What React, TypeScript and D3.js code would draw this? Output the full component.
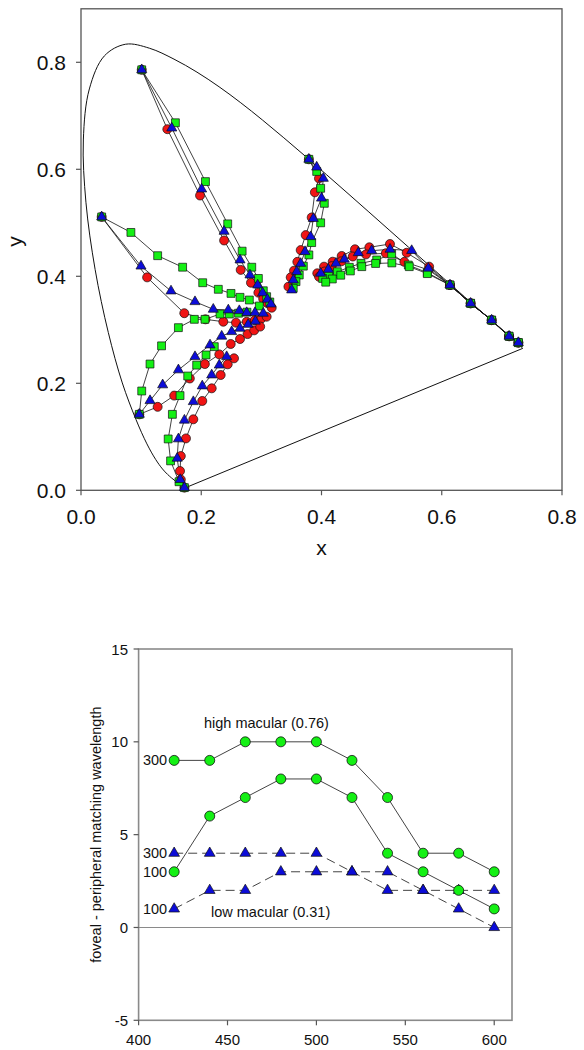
import React from "react";
import * as d3 from "d3";

type P = [number, number];

// CIE 1931 spectral locus (x, y), 380-700 nm
const spectralLocus: P[] = [
  [0.1741, 0.005], [0.1733, 0.0048], [0.1726, 0.0048], [0.1714, 0.0051], [0.1703, 0.0058],
  [0.1689, 0.0069], [0.1669, 0.0086], [0.1644, 0.0109], [0.1611, 0.0138], [0.1566, 0.0177],
  [0.151, 0.0227], [0.144, 0.0297], [0.1355, 0.0399], [0.1241, 0.0578], [0.1096, 0.0868],
  [0.0913, 0.1327], [0.0687, 0.2007], [0.0454, 0.295], [0.0235, 0.4127], [0.0082, 0.5384],
  [0.0039, 0.6548], [0.0139, 0.7502], [0.0389, 0.812], [0.0743, 0.8338], [0.1142, 0.8262],
  [0.1547, 0.8059], [0.1929, 0.7816], [0.2296, 0.7543], [0.2658, 0.7243], [0.3016, 0.6923],
  [0.3373, 0.6589], [0.3731, 0.6245], [0.4087, 0.5896], [0.4441, 0.5547], [0.4788, 0.5202],
  [0.5125, 0.4866], [0.5448, 0.4544], [0.5752, 0.4242], [0.6029, 0.3965], [0.627, 0.3725],
  [0.6482, 0.3514], [0.6658, 0.334], [0.6801, 0.3197], [0.6915, 0.3083], [0.7006, 0.2993],
  [0.7079, 0.292], [0.714, 0.2859], [0.719, 0.2809], [0.723, 0.277], [0.726, 0.274],
  [0.73, 0.27], [0.732, 0.268], [0.7347, 0.2653],
];

// Fan from ~515 nm (top)
const fanARed: P[] = [[0.101, 0.786], [0.1436, 0.675], [0.198, 0.551], [0.238, 0.467], [0.2656, 0.412], [0.2827, 0.388], [0.295, 0.3694], [0.303, 0.358], [0.31, 0.35], [0.3172, 0.3413]];
const fanABlue: P[] = [[0.101, 0.786], [0.151, 0.677], [0.2007, 0.563], [0.238, 0.484], [0.2645, 0.4305], [0.281, 0.4024], [0.2938, 0.3837], [0.302, 0.369], [0.31, 0.357], [0.316, 0.348]];
const fanAGreen: P[] = [[0.101, 0.786], [0.157, 0.687], [0.207, 0.577], [0.244, 0.498], [0.268, 0.447], [0.284, 0.417], [0.295, 0.396], [0.3032, 0.373], [0.3088, 0.3619], [0.314, 0.352]];

// Fan from ~495 nm (left)
const fanBRed: P[] = [[0.0344, 0.511], [0.11, 0.398], [0.1718, 0.331], [0.207, 0.3196], [0.2367, 0.3151], [0.2578, 0.3133], [0.2756, 0.3151], [0.289, 0.318], [0.3, 0.321], [0.3088, 0.3245]];
const fanBBlue: P[] = [[0.0344, 0.511], [0.0998, 0.419], [0.1497, 0.3725], [0.1896, 0.3525], [0.22, 0.3383], [0.245, 0.337], [0.2633, 0.3357], [0.2756, 0.332], [0.2894, 0.332], [0.3032, 0.3308]];
const fanBGreen: P[] = [[0.0344, 0.511], [0.083, 0.482], [0.1275, 0.4385], [0.169, 0.417], [0.2024, 0.388], [0.2284, 0.3757], [0.2495, 0.368], [0.2645, 0.3607], [0.28, 0.3557], [0.2966, 0.3445]];

// Fan from ~480 nm
const fanCRed: P[] = [[0.097, 0.142], [0.1275, 0.156], [0.155, 0.177], [0.181, 0.209], [0.206, 0.236], [0.23, 0.254], [0.249, 0.2735], [0.2645, 0.2828], [0.277, 0.292], [0.288, 0.299], [0.298, 0.306]];
const fanCBlue: P[] = [[0.097, 0.142], [0.1148, 0.1675], [0.1358, 0.197], [0.162, 0.225], [0.1896, 0.2497], [0.2146, 0.2716], [0.234, 0.288], [0.2506, 0.2965], [0.2645, 0.3028], [0.278, 0.31], [0.29, 0.316]];
const fanCGreen: P[] = [[0.097, 0.142], [0.101, 0.1856], [0.1148, 0.236], [0.134, 0.27], [0.162, 0.304], [0.1885, 0.3196], [0.2062, 0.3196], [0.2312, 0.3295], [0.2467, 0.3295], [0.262, 0.331], [0.276, 0.333]];

// Fan from ~440 nm (bottom)
const fanDRed: P[] = [[0.172, 0.005], [0.166, 0.02], [0.1647, 0.036], [0.166, 0.064], [0.1746, 0.097], [0.1868, 0.1327], [0.2017, 0.167], [0.2174, 0.1906], [0.2323, 0.2155], [0.244, 0.2355], [0.2545, 0.2467]];
const fanDBlue: P[] = [[0.172, 0.005], [0.165, 0.02], [0.16, 0.0598], [0.162, 0.096], [0.172, 0.131], [0.1868, 0.1656], [0.2017, 0.195], [0.2174, 0.2155], [0.23, 0.234], [0.2423, 0.2497]];
const fanDGreen: P[] = [[0.172, 0.005], [0.163, 0.016], [0.149, 0.055], [0.145, 0.096], [0.152, 0.142], [0.1647, 0.177], [0.1775, 0.2136], [0.1924, 0.234], [0.208, 0.253], [0.2217, 0.2685]];

// Fan from ~560 nm
const fanERed: P[] = [[0.379, 0.6187], [0.3958, 0.583], [0.389, 0.557], [0.3837, 0.51], [0.3737, 0.477], [0.3654, 0.449], [0.3598, 0.427], [0.3543, 0.4105], [0.3488, 0.398], [0.345, 0.3806]];
const fanEBlue: P[] = [[0.379, 0.6187], [0.392, 0.604], [0.403, 0.583], [0.4, 0.546], [0.3864, 0.508], [0.382, 0.474], [0.3726, 0.446], [0.3654, 0.424], [0.3587, 0.4086], [0.3531, 0.393], [0.3504, 0.3744]];
const fanEGreen: P[] = [[0.379, 0.6187], [0.392, 0.596], [0.3986, 0.5645], [0.4047, 0.5364], [0.3986, 0.5], [0.3837, 0.463], [0.379, 0.44], [0.3698, 0.419], [0.363, 0.4024], [0.3576, 0.39], [0.353, 0.3776]];

// Fan from long wavelengths
const fanFRed: P[] = [[0.7274, 0.276], [0.712, 0.288], [0.683, 0.318], [0.648, 0.3495], [0.6137, 0.3837], [0.579, 0.418], [0.5417, 0.444], [0.5139, 0.4604], [0.4796, 0.4542], [0.4557, 0.4505], [0.4336, 0.438], [0.4186, 0.4273], [0.4042, 0.418], [0.393, 0.4056]];
const fanFRed2: P[] = [[0.7274, 0.276], [0.712, 0.288], [0.683, 0.318], [0.648, 0.3495], [0.6137, 0.3837], [0.578, 0.412], [0.5378, 0.427], [0.507, 0.443], [0.474, 0.441], [0.452, 0.437], [0.433, 0.428], [0.417, 0.419], [0.405, 0.409], [0.396, 0.399]];
const fanFBlue: P[] = [[0.7274, 0.276], [0.712, 0.288], [0.683, 0.318], [0.648, 0.3495], [0.6137, 0.3837], [0.5777, 0.415], [0.55, 0.448], [0.514, 0.4505], [0.4835, 0.4479], [0.4612, 0.444], [0.438, 0.4318], [0.4241, 0.4243], [0.4114, 0.413], [0.3986, 0.4056]];
const fanFGreen: P[] = [[0.7274, 0.276], [0.712, 0.288], [0.683, 0.318], [0.648, 0.3495], [0.6137, 0.3837], [0.576, 0.4068], [0.5444, 0.421], [0.5167, 0.4417], [0.4918, 0.4305], [0.4657, 0.4243], [0.4463, 0.4168], [0.4263, 0.4086], [0.412, 0.401], [0.402, 0.396]];
const fanFGreen2: P[] = [[0.7274, 0.276], [0.712, 0.288], [0.683, 0.318], [0.648, 0.3495], [0.6137, 0.3837], [0.576, 0.405], [0.546, 0.418], [0.517, 0.425], [0.49, 0.424], [0.467, 0.418], [0.448, 0.41], [0.432, 0.402], [0.418, 0.395], [0.407, 0.389]];

const redCurves: P[][] = [fanARed, fanBRed, fanCRed, fanDRed, fanERed, fanFRed, fanFRed2];
const greenCurves: P[][] = [fanAGreen, fanBGreen, fanCGreen, fanDGreen, fanEGreen, fanFGreen, fanFGreen2];
const blueCurves: P[][] = [fanABlue, fanBBlue, fanCBlue, fanDBlue, fanEBlue, fanFBlue];

const topXTicks = [0, 0.2, 0.4, 0.6, 0.8];
const topYTicks = [0, 0.2, 0.4, 0.6, 0.8];

// Bottom chart
const wavelengths = [420, 440, 460, 480, 500, 520, 540, 560, 580, 600];
const high300 = [9, 9, 10, 10, 10, 9, 7, 4, 4, 3];
const high100 = [3, 6, 7, 8, 8, 7, 4, 3, 2, 1];
const low300 = [4, 4, 4, 4, 4, 3, 2, 2, 2, 2];
const low100 = [1, 2, 2, 3, 3, 3, 3, 2, 1, 0];
const botXTicks = [400, 450, 500, 550, 600];
const botYTicks = [-5, 0, 5, 10, 15];

const RED = "#f01414";
const GREEN = "#14f014";
const BLUE = "#0c0cd8";
const FONT = "Liberation Sans, Arial, Helvetica, sans-serif";

export default function App() {
  // top scales
  const tx = d3.scaleLinear().domain([0, 0.8]).range([81, 562]);
  const ty = d3.scaleLinear().domain([0, 0.9]).range([490.3, 8.8]);
  // bottom scales
  const bx = d3.scaleLinear().domain([400, 610]).range([138.6, 512]);
  const by = d3.scaleLinear().domain([-5, 15]).range([1020.3, 649]);

  const locusLine = d3.line<P>().x((d) => tx(d[0])).y((d) => ty(d[1])).curve(d3.curveCatmullRom);
  const poly = d3.line<P>().x((d) => tx(d[0])).y((d) => ty(d[1]));
  const first = spectralLocus[0];
  const last = spectralLocus[spectralLocus.length - 1];

  const tri = d3.symbol().type(d3.symbolTriangle).size(44)() as string;
  const sq = d3.symbol().type(d3.symbolSquare).size(62)() as string;
  const triB = d3.symbol().type(d3.symbolTriangle).size(50)() as string;

  const botLine = d3
    .line<number>()
    .x((_, i) => bx(wavelengths[i]))
    .y((d) => by(d));

  const [tx0, tx1] = tx.range();
  const [ty0, ty1] = ty.range();
  const [bx0, bx1] = bx.range();
  const [by0, by1] = by.range();

  return (
    <svg
      width={584}
      height={1050}
      style={{ position: "absolute", left: 0, top: 0, background: "#fff" }}
      fontFamily={FONT}
    >
      {/* ===== TOP CHART ===== */}
      <rect x={tx0} y={ty1} width={tx1 - tx0} height={ty0 - ty1} fill="none" stroke="#555" strokeWidth={1.3} />
      {topXTicks.map((t) => (
        <g key={"tx" + t}>
          <line x1={tx(t)} x2={tx(t)} y1={ty0} y2={ty0 + 5} stroke="#555" strokeWidth={1.2} />
          <text x={tx(t)} y={ty0 + 34} fontSize={21} textAnchor="middle" fill="#111">
            {t.toFixed(1)}
          </text>
        </g>
      ))}
      {topYTicks.map((t) => (
        <g key={"ty" + t}>
          <line x1={tx0 - 5} x2={tx0} y1={ty(t)} y2={ty(t)} stroke="#555" strokeWidth={1.2} />
          <text x={66} y={ty(t) + 7.5} fontSize={21} textAnchor="end" fill="#111">
            {t.toFixed(1)}
          </text>
        </g>
      ))}
      <text x={(tx0 + tx1) / 2} y={555} fontSize={21} textAnchor="middle" fill="#111">x</text>
      <text transform={`translate(22,${(ty0 + ty1) / 2 - 8}) rotate(-90)`} fontSize={21} textAnchor="middle" fill="#111">y</text>

      {/* spectral locus */}
      <path d={locusLine(spectralLocus) as string} fill="none" stroke="#111" strokeWidth={1} />
      <line x1={tx(last[0])} y1={ty(last[1])} x2={tx(first[0])} y2={ty(first[1])} stroke="#111" strokeWidth={1} />

      {/* curve lines */}
      {[...redCurves, ...greenCurves, ...blueCurves].map((c, i) => (
        <path key={"l" + i} d={poly(c) as string} fill="none" stroke="#111" strokeWidth={0.8} />
      ))}
      {redCurves.map((c, i) =>
        c.map((p, j) => (
          <circle key={`r${i}-${j}`} cx={tx(p[0])} cy={ty(p[1])} r={4.5} fill={RED} stroke="#111" strokeWidth={0.7} />
        ))
      )}
      {greenCurves.map((c, i) =>
        c.map((p, j) => (
          <path key={`g${i}-${j}`} d={sq} transform={`translate(${tx(p[0])},${ty(p[1])})`} fill={GREEN} stroke="#111" strokeWidth={0.7} />
        ))
      )}
      {blueCurves.map((c, i) =>
        c.map((p, j) => (
          <path key={`b${i}-${j}`} d={tri} transform={`translate(${tx(p[0])},${ty(p[1])})`} fill={BLUE} stroke="#111" strokeWidth={0.7} />
        ))
      )}

      {/* ===== BOTTOM CHART ===== */}
      <rect x={bx0} y={by1} width={bx1 - bx0} height={by0 - by1} fill="none" stroke="#8a8a8a" strokeWidth={1.6} />
      <line x1={bx0} x2={bx1} y1={by(0)} y2={by(0)} stroke="#8a8a8a" strokeWidth={1.2} />
      {botXTicks.map((t) => (
        <g key={"bx" + t}>
          <line x1={bx(t)} x2={bx(t)} y1={by0} y2={by0 + 5} stroke="#555" strokeWidth={1.2} />
          <text x={bx(t)} y={by0 + 25} fontSize={15} textAnchor="middle" fill="#111">
            {t}
          </text>
        </g>
      ))}
      {botYTicks.map((t) => (
        <g key={"by" + t}>
          <line x1={bx0 - 5} x2={bx0} y1={by(t)} y2={by(t)} stroke="#555" strokeWidth={1.2} />
          <text x={128} y={by(t) + 5.5} fontSize={15} textAnchor="end" fill="#111">
            {t}
          </text>
        </g>
      ))}
      <text
        transform={`translate(101,${(by0 + by1) / 2}) rotate(-90)`}
        fontSize={14.5}
        textAnchor="middle"
        fill="#111"
      >
        foveal - peripheral matching wavelength
      </text>

      <path d={botLine(high300) as string} fill="none" stroke="#444" strokeWidth={1} />
      <path d={botLine(high100) as string} fill="none" stroke="#444" strokeWidth={1} />
      <path d={botLine(low300) as string} fill="none" stroke="#444" strokeWidth={1} strokeDasharray="9,5" />
      <path d={botLine(low100) as string} fill="none" stroke="#444" strokeWidth={1} strokeDasharray="9,5" />

      {[low300, low100].map((s, si) =>
        s.map((v, i) => (
          <path key={`lt${si}-${i}`} d={triB} transform={`translate(${bx(wavelengths[i])},${by(v)})`} fill={BLUE} stroke="#111" strokeWidth={0.7} />
        ))
      )}
      {[high300, high100].map((s, si) =>
        s.map((v, i) => (
          <circle key={`hc${si}-${i}`} cx={bx(wavelengths[i])} cy={by(v)} r={5} fill={GREEN} stroke="#111" strokeWidth={0.8} />
        ))
      )}

      <text x={bx(420) - 7} y={by(high300[0]) + 5} fontSize={14.5} textAnchor="end" fill="#111">300</text>
      <text x={bx(420) - 7} y={by(low300[0]) + 5} fontSize={14.5} textAnchor="end" fill="#111">300</text>
      <text x={bx(420) - 7} y={by(high100[0]) + 5} fontSize={14.5} textAnchor="end" fill="#111">100</text>
      <text x={bx(420) - 7} y={by(low100[0]) + 5} fontSize={14.5} textAnchor="end" fill="#111">100</text>
      <text x={204} y={728} fontSize={14.5} fill="#111">high macular (0.76)</text>
      <text x={211} y={917} fontSize={14.5} fill="#111">low macular (0.31)</text>
    </svg>
  );
}
